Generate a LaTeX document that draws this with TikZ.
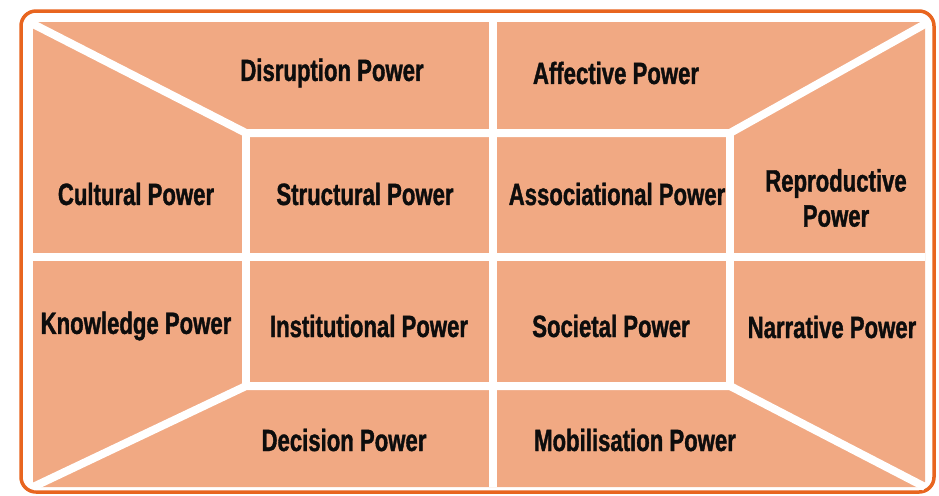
\documentclass[tikz,border=0pt]{standalone}
\usepackage{fontspec}
\setmainfont{Liberation Sans}[FakeStretch=0.72, FakeBold=1.2]
\definecolor{panelfill}{HTML}{F1A983}
\definecolor{frameorange}{HTML}{E8651F}

\begin{document}
\begin{tikzpicture}[x=0.02cm, y=-0.02cm,
  divider/.style={white, line width=0.16cm},
  powerlabel/.style={font=\bfseries\fontsize{17.5}{20}\selectfont, align=center, text=black!95}]
\useasboundingbox (0,0) rectangle (939,495);
\fill[white] (0,0) rectangle (939,495);
\draw[frameorange, line width=0.07cm, fill=white, rounded corners=0.3cm] (21,11) rectangle (934,492);
\fill[panelfill, rounded corners=0.1cm] (33,22) rectangle (925,487);

% corners of panel and inner box
\coordinate (TL) at (33,24);
\coordinate (TR) at (925,24);
\coordinate (BL) at (33,487);
\coordinate (BR) at (925,487);
\coordinate (iTL) at (246,133);
\coordinate (iTR) at (730,133);
\coordinate (iBL) at (246,386);
\coordinate (iBR) at (730,386);
\coordinate (midT) at (493,22);
\coordinate (midB) at (493,487);
\coordinate (midL) at (33,257);
\coordinate (midR) at (925,257);

\draw[divider] (TL) -- (iTL) -- (iTR) -- (TR);
\draw[divider] (BL) -- (iBL) -- (iBR) -- (BR);
\draw[divider] (iTL) -- (iBL);
\draw[divider] (iTR) -- (iBR);
\draw[divider] (midT) -- (midB);
\draw[divider] (midL) -- (midR);

\node[powerlabel](disruption) at (332,73) {Disruption Power};
\node[powerlabel](affective) at (616,73) {Affective Power};
\node[powerlabel](cultural) at (136,194) {Cultural Power};
\node[powerlabel](structural) at (365,194) {Structural Power};
\node[powerlabel](associational) at (617,194) {Associational Power};
\node[powerlabel](reproductive) at (836,198) {Reproductive\\Power};
\node[powerlabel](knowledge) at (136,326) {Knowledge Power};
\node[powerlabel](institutional) at (369,326) {Institutional Power};
\node[powerlabel](societal) at (611,326) {Societal Power};
\node[powerlabel](narrative) at (832,327) {Narrative Power};
\node[powerlabel](decision) at (344,440) {Decision Power};
\node[powerlabel](mobilisation) at (635,440) {Mobilisation Power};
\end{tikzpicture}
\end{document}
